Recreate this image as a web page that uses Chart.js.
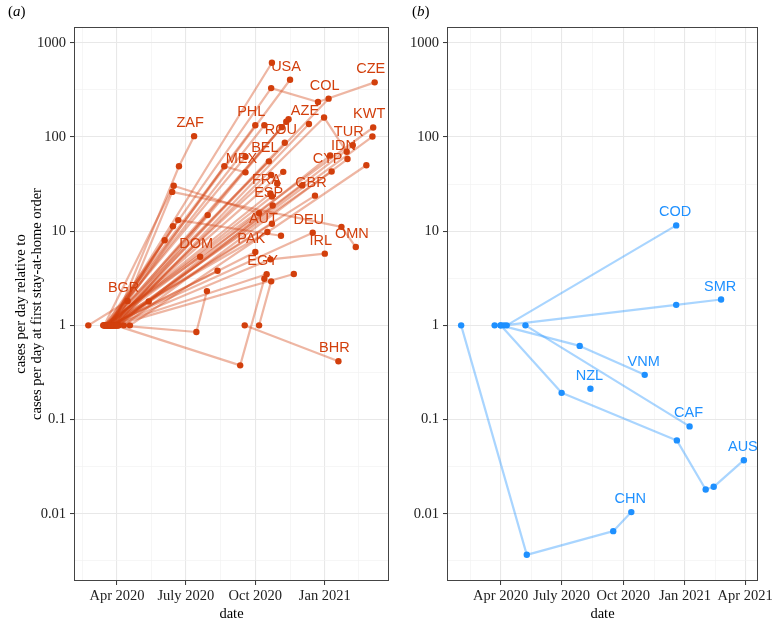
<!DOCTYPE html>
<html>
<head>
<meta charset="utf-8">
<script src="https://cdn.jsdelivr.net/npm/chart.js@4.4.1/dist/chart.umd.min.js"></script>
<style>
  html, body { margin: 0; padding: 0; background: #fff; }
  #wrap { position: relative; width: 778px; height: 622px; }
  canvas { position: absolute; top: 0; }
  #chartA { left: 0; }
  #chartB { left: 395px; }
</style>
</head>
<body>
<div id="wrap">
  <canvas id="chartA" width="395" height="622"></canvas>
  <canvas id="chartB" width="383" height="622"></canvas>
</div>
<script>
// ---------------- data ----------------
const yTickValues = [0.01, 0.1, 1, 10, 100, 1000];
const yTickLabels = ['0.01', '0.1', '1', '10', '100', '1000'];
const xTickDates = ['2020-04-01', '2020-07-01', '2020-10-01', '2021-01-01', '2021-04-01'];
const xTickLabels = ['Apr 2020', 'July 2020', 'Oct 2020', 'Jan 2021', 'Apr 2021'];

// panel (a): countries where cases kept rising ('' = no label shown)
const leftCountries = [
  'USA', 'CZE', 'COL', 'ZAF', 'PHL', 'AZE', 'ROU', 'KWT', 'TUR', 'IDN', 'BEL', 'MEX', 'CYP',
  'FRA', 'ESP', 'GBR', 'AUT', 'DEU', 'DOM', 'PAK', 'OMN', 'IRL', 'EGY', 'BGR', 'BHR',
  '', '', '', '', '', '', '', '', '', '', '', '', '', '', '', '', '', '', '', '', '', '', '', '', '', ''
];
const leftDates = [
  ['2020-03-19', '2020-11-16'],
  ['2020-03-16', '2020-10-22', '2020-12-23', '2021-03-08'],
  ['2020-03-25', '2021-01-06'],
  ['2020-03-27', '2020-06-22', '2020-07-12'],
  ['2020-03-16', '2020-10-01'],
  ['2020-03-31', '2020-12-11'],
  ['2020-03-25', '2020-11-09'],
  ['2020-03-14', '2021-03-06'],
  ['2020-04-03', '2021-02-07'],
  ['2020-04-10', '2021-01-31'],
  ['2020-03-18', '2020-10-19'],
  ['2020-03-23', '2020-08-21', '2020-09-18'],
  ['2020-03-24', '2021-01-10'],
  ['2020-03-17', '2020-10-21'],
  ['2020-03-14', '2020-10-24'],
  ['2020-03-23', '2020-12-19'],
  ['2020-03-16', '2020-10-17'],
  ['2020-03-22', '2020-12-16'],
  ['2020-03-20', '2020-07-20'],
  ['2020-03-24', '2020-10-01'],
  ['2020-04-01', '2020-06-13', '2021-01-23', '2021-02-11'],
  ['2020-03-27', '2020-10-21', '2021-01-01'],
  ['2020-03-25', '2020-10-16'],
  ['2020-02-23', '2020-04-15'],
  ['2020-09-17', '2021-01-19'],
  ['2020-03-21', '2020-10-23'],
  ['2020-03-22', '2020-11-14'],
  ['2020-03-26', '2020-11-11'],
  ['2020-03-19', '2020-10-13'],
  ['2020-03-30', '2021-03-05'],
  ['2020-03-28', '2020-12-31', '2021-01-30'],
  ['2020-04-02', '2021-01-08'],
  ['2020-03-17', '2020-09-18'],
  ['2020-04-18', '2021-02-25'],
  ['2020-03-20', '2020-11-07'],
  ['2020-03-21', '2020-10-22', '2020-10-30'],
  ['2020-03-29', '2020-12-02'],
  ['2020-03-15', '2020-06-15', '2020-10-06'],
  ['2020-03-18', '2020-10-23'],
  ['2020-03-19', '2020-07-30'],
  ['2020-03-20', '2020-06-21', '2020-11-04'],
  ['2020-03-22', '2020-06-14'],
  ['2020-03-26', '2020-10-23'],
  ['2020-03-23', '2020-06-03'],
  ['2020-03-24', '2020-08-12'],
  ['2020-04-03', '2020-07-15', '2020-07-29'],
  ['2020-03-27', '2020-05-13'],
  ['2020-03-30', '2020-09-11', '2020-10-13'],
  ['2020-10-06', '2020-10-22'],
  ['2020-03-29', '2020-11-21'],
  ['2020-03-31', '2020-11-05']
];
const leftValues = [
  [1, 405], [1, 330, 235, 380], [1, 255], [1, 48.9, 102], [1, 133], [1, 137], [1, 86.8],
  [1, 126], [1, 81.6], [1, 58.3], [1, 55.1], [1, 48.9, 42.1], [1, 42.9], [1, 25.1], [1, 18.7],
  [1, 23.8], [1, 9.78], [1, 9.62], [1, 5.35], [1, 6.0], [1, 26.1, 11.1, 6.78], [1, 5.02, 5.77],
  [1, 3.48], [1, 1.81], [1, 0.415],
  [1, 614], [1, 154], [1, 145], [1, 133], [1, 101], [1, 161, 69.6], [1, 63.5], [1, 61.6],
  [1, 50.1], [1, 42.6], [1, 39.4, 31.8], [1, 30.6], [1, 30.3, 15.5], [1, 23.3], [1, 14.8],
  [1, 13.1, 8.93], [1, 11.3], [1, 12.0], [1, 8.0], [1, 3.80], [1, 0.849, 2.31], [1, 1.79],
  [1, 0.376, 3.12], [1, 2.93], [1, 3.51], [1, 127]
];

// panel (b)
const rightCountries = ['CHN', 'COD', 'SMR', 'VNM', 'NZL', 'CAF', 'AUS'];
const rightDates = [
  ['2020-02-02', '2020-05-10', '2020-09-16', '2020-10-13'],
  ['2020-04-10', '2020-12-19'],
  ['2020-04-06', '2020-12-19', '2021-02-24'],
  ['2020-04-01', '2020-07-28', '2020-11-02'],
  ['2020-03-23', '2020-08-13'],
  ['2020-05-08', '2021-01-08'],
  ['2020-04-01', '2020-07-01', '2020-12-20', '2021-02-01', '2021-02-13', '2021-03-30']
];
const rightValues = [
  [1, 0.00366, 0.00653, 0.0104],
  [1, 11.5],
  [1, 1.65, 1.88],
  [1, 0.605, 0.298],
  [1, 0.212],
  [1, 0.0845],
  [1, 0.192, 0.06, 0.0181, 0.0193, 0.037]
];
const rightNoLine = ['NZL'];

// ---------------- helpers ----------------
const SERIF = '"Liberation Serif", "Times New Roman", serif';
const SANS = '"Liberation Sans", Arial, sans-serif';
const Y_MIN = 0.00193, Y_MAX = 1470;

function toDay(s) {
  const [y, m, d] = s.split('-').map(Number);
  return Date.UTC(y, m - 1, d) / 864e5;
}

const majorX = new Map(xTickDates.map((d, i) => [toDay(d), xTickLabels[i]]));
const majorY = new Map(yTickValues.map((v, i) => [v, yTickLabels[i]]));

// ggplot-style minor breaks: midway between the majors
const quarterDays = ['2020-01-01', '2020-04-01', '2020-07-01', '2020-10-01', '2021-01-01', '2021-04-01', '2021-07-01'].map(toDay);
const xAllTicks = quarterDays.concat(quarterDays.slice(1).map((d, i) => (d + quarterDays[i]) / 2)).sort((a, b) => a - b);
const yAllTicks = [];
for (let k = -3; k <= 3; k++) { yAllTicks.push(Math.pow(10, k)); yAllTicks.push(Math.pow(10, k + 0.5)); }

const panelDeco = {
  id: 'panelDeco',
  afterDatasetsDraw(chart, args, o) {
    const {ctx, scales: {x, y}} = chart;
    ctx.save();
    ctx.font = '14.5px ' + SANS;
    ctx.fillStyle = o.color;
    ctx.textAlign = 'center';
    ctx.textBaseline = 'middle';
    o.names.forEach((name, i) => {
      if (!name) return;
      const d = o.dates[i], v = o.values[i];
      const px = x.getPixelForValue(toDay(d[d.length - 1]));
      const py = y.getPixelForValue(v[v.length - 1]);
      ctx.fillText(name, px + o.dx, py - 13);
    });
    ctx.restore();
  },
  afterDraw(chart, args, o) {
    const {ctx, chartArea: a} = chart;
    ctx.save();
    ctx.strokeStyle = '#444';
    ctx.lineWidth = 1;
    ctx.strokeRect(a.left + 0.5, a.top + 0.5, a.right - a.left - 1, a.bottom - a.top - 1);
    // panel tag like "(a)"
    ctx.fillStyle = '#000';
    ctx.textBaseline = 'middle';
    let tx = o.tagX;
    const parts = [['(', 'normal'], [o.tag, 'italic'], [')', 'normal']];
    parts.forEach(([t, st]) => {
      ctx.font = st + ' 15px ' + SERIF;
      ctx.fillText(t, tx, 12);
      tx += ctx.measureText(t).width;
    });
    ctx.restore();
  }
};

function makePanel(canvasId, p) {
  const sets = [];
  const pts = [];
  p.names.forEach((name, i) => {
    const data = p.dates[i].map((d, j) => ({x: toDay(d), y: p.values[i][j]}));
    pts.push(...data);
    if (p.noLine.includes(name)) return;
    sets.push({
      label: name || 'country ' + i,
      data: data,
      showLine: true,
      borderColor: p.lineColor,
      borderWidth: 2.2,
      borderJoinStyle: 'round',
      borderCapStyle: 'round',
      pointRadius: 0,
      pointHoverRadius: 0,
      order: 1
    });
  });
  sets.push({
    label: 'points',
    data: pts,
    showLine: false,
    pointRadius: 3.2,
    pointHoverRadius: 3.2,
    pointBackgroundColor: p.pointColor,
    pointBorderWidth: 0,
    order: 0
  });

  const allDays = pts.map(q => q.x);
  const dMin = Math.min(...allDays), dMax = Math.max(...allDays);
  const ex = (dMax - dMin) * 0.05;
  const xMin = dMin - ex, xMax = dMax + ex;

  return new Chart(document.getElementById(canvasId), {
    type: 'scatter',
    data: {datasets: sets},
    plugins: [panelDeco],
    options: {
      responsive: false,
      animation: false,
      events: [],
      layout: {padding: {top: 27, right: p.padRight, bottom: 0, left: 0}},
      scales: {
        x: {
          type: 'linear',
          min: xMin,
          max: xMax,
          afterBuildTicks: s => { s.ticks = xAllTicks.filter(v => v >= xMin && v <= xMax).map(v => ({value: v})); },
          afterFit: s => { s.height = 41; },
          border: {display: false},
          grid: {
            color: c => majorX.has(c.tick.value) ? '#e8e8e8' : '#f2f2f2',
            lineWidth: c => majorX.has(c.tick.value) ? 1.1 : 0.7,
            tickColor: c => majorX.has(c.tick.value) ? '#333' : 'rgba(0,0,0,0)',
            tickLength: 4,
            tickWidth: 1
          },
          ticks: {
            autoSkip: false,
            maxRotation: 0,
            padding: 2,
            color: '#222',
            font: {family: SERIF, size: 14.5},
            callback: v => majorX.get(v) || ''
          },
          title: {display: true, text: 'date', color: '#000', font: {family: SERIF, size: 14.5, lineHeight: '16px'}, padding: {top: 0, bottom: 0}}
        },
        y: {
          type: 'logarithmic',
          min: Y_MIN,
          max: Y_MAX,
          afterBuildTicks: s => { s.ticks = yAllTicks.filter(v => v >= Y_MIN && v <= Y_MAX).map(v => ({value: v})); },
          afterFit: s => { s.width = p.yWidth; },
          border: {display: false},
          grid: {
            color: c => majorY.has(c.tick.value) ? '#e8e8e8' : '#f2f2f2',
            lineWidth: c => majorY.has(c.tick.value) ? 1.1 : 0.7,
            tickColor: c => majorY.has(c.tick.value) ? '#333' : 'rgba(0,0,0,0)',
            tickLength: 4,
            tickWidth: 1
          },
          ticks: {
            autoSkip: false,
            padding: 4,
            color: '#222',
            font: {family: SERIF, size: 14.5},
            callback: v => majorY.get(v) || ''
          },
          title: {
            display: p.yTitle,
            text: ['cases per day relative to', 'cases per day at first stay-at-home order'],
            color: '#000',
            font: {family: SERIF, size: 14.5, lineHeight: '16px'},
            padding: {top: 13, bottom: 0}
          }
        }
      },
      plugins: {
        legend: {display: false},
        tooltip: {enabled: false},
        panelDeco: {
          names: p.names, dates: p.dates, values: p.values,
          color: p.pointColor, dx: p.labelDx, tag: p.tag, tagX: p.tagX
        }
      }
    }
  });
}

makePanel('chartA', {
  names: leftCountries, dates: leftDates, values: leftValues, noLine: [],
  pointColor: '#d23f0c', lineColor: 'rgba(210,63,12,0.38)',
  labelDx: -4, yWidth: 74, padRight: 6, yTitle: true, tag: 'a', tagX: 8
});

makePanel('chartB', {
  names: rightCountries, dates: rightDates, values: rightValues, noLine: rightNoLine,
  pointColor: '#1e90ff', lineColor: 'rgba(30,144,255,0.38)',
  labelDx: -1, yWidth: 52, padRight: 20, yTitle: false, tag: 'b', tagX: 17
});
</script>
</body>
</html>
